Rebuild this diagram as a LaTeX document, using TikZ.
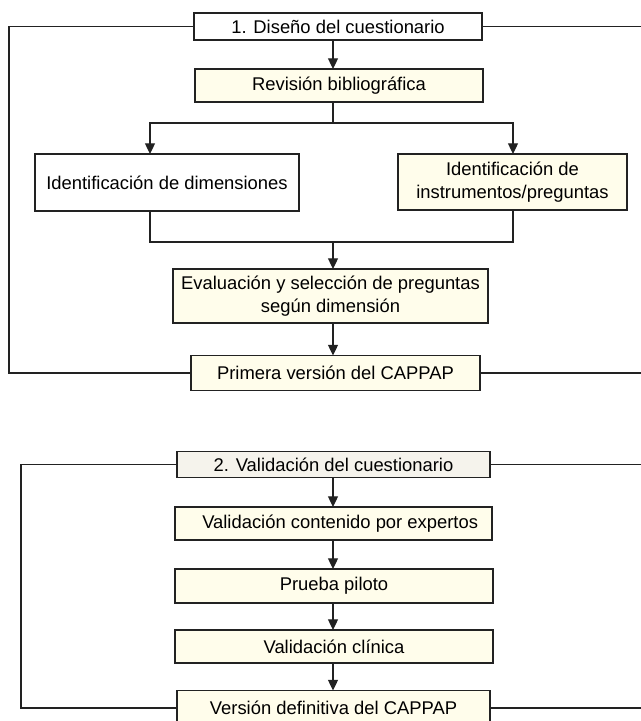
\documentclass[tikz,border=0pt]{standalone}
\usepackage{fontspec}
\setmainfont{Liberation Sans}
\usetikzlibrary{arrows.meta}

\definecolor{boxyellow}{RGB}{255,253,235}
\definecolor{boxgray}{RGB}{245,243,236}
\definecolor{linegray}{RGB}{34,34,34}

\tikzset{every picture/.style={line width=0.9pt}}
\tikzset{
	stepbox/.style={draw=linegray, fill=boxyellow, inner sep=0.75pt, outer sep=0pt, align=center, font=\fontsize{13.8}{17}\selectfont},
	plainbox/.style={stepbox, fill=white},
	titlebox/.style={stepbox, fill=boxgray},
	flowarrow/.style={draw=linegray, -{Triangle[width=7.5pt,length=8pt]}},
	frameline/.style={draw=linegray},
}

\begin{document}
\begin{tikzpicture}[x=0.75pt,y=0.75pt,yscale=-1,xscale=1]
	%set diagram size
	\useasboundingbox (0,0) rectangle (641,721);

	%Coordinates for the arrow axis and the frame sides
	\coordinate (axis) at (333,0);
	\coordinate (leftx) at (150,0);
	\coordinate (rightx) at (513,0);
	\coordinate (edge) at (641,0);
	\coordinate (frameA) at (9,0);
	\coordinate (frameB) at (21,0);

	%Section 1: design
	% Text Node
	\node [plainbox, minimum width=216pt, minimum height=20.25pt] (t1) at (338,26.5) {1. Diseño del cuestionario};
	% Text Node
	\node [stepbox, minimum width=216pt, minimum height=24.75pt] (rev) at (339,85.5) {Revisión bibliográfica};
	% Text Node
	\node [plainbox, minimum width=198pt, minimum height=42.75pt] (dim) at (167,182.5) {Identificación de dimensiones};
	% Text Node
	\node [stepbox, minimum width=171.75pt, minimum height=42pt] (ins) at (512.5,182) {Identificación de\\instrumentos/preguntas};
	% Text Node
	\node [stepbox, minimum width=236.25pt, minimum height=40.5pt] (eva) at (330.5,296) {Evaluación y selección de preguntas\\según dimensión};
	% Text Node
	\node [stepbox, minimum width=216.75pt, minimum height=26.25pt] (pri) at (335.5,373) {Primera versión del CAPPAP};

	\coordinate (split) at (333,123);
	\coordinate (merge) at (333,242);

	%Connectors
	\draw [flowarrow] (t1.south -| axis) -- (rev.north -| axis);
	\draw [frameline] (rev.south -| axis) -- (split);
	\draw [flowarrow] (split) -| (dim.north -| leftx);
	\draw [flowarrow] (split) -| (ins.north -| rightx);
	\draw [frameline] (dim.south -| leftx) |- (merge);
	\draw [frameline] (ins.south -| rightx) |- (merge);
	\draw [flowarrow] (merge) -- (eva.north -| axis);
	\draw [flowarrow] (eva.south -| axis) -- (pri.north -| axis);

	%Frame 1
	\draw [frameline] (t1.west) -| (frameA |- pri.west) -- (pri.west);
	\draw [frameline] (t1.east) -- (t1.east -| edge);
	\draw [frameline] (pri.east) -- (pri.east -| edge);

	%Section 2: validation
	% Text Node
	\node [titlebox, minimum width=234.75pt, minimum height=19.5pt] (t2) at (333.5,464.5) {2. Validación del cuestionario};
	% Text Node
	\node [stepbox, minimum width=237.75pt, minimum height=24.75pt] (exp) at (333.5,523.5) {\hspace*{10pt}Validación contenido por expertos};
	% Text Node
	\node [stepbox, minimum width=238.5pt, minimum height=25.5pt] (pil) at (334,586) {Prueba piloto};
	% Text Node
	\node [stepbox, minimum width=238.5pt, minimum height=24.75pt] (cli) at (334,646.5) {Validación clínica};
	% Text Node
	\node [stepbox, minimum width=234.75pt, minimum height=26.25pt] (def) at (333.5,708) {Versión definitiva del CAPPAP};

	%Connectors
	\draw [flowarrow] (t2.south -| axis) -- (exp.north -| axis);
	\draw [flowarrow] (exp.south -| axis) -- (pil.north -| axis);
	\draw [flowarrow] (pil.south -| axis) -- (cli.north -| axis);
	\draw [flowarrow] (cli.south -| axis) -- (def.north -| axis);

	%Frame 2
	\draw [frameline] (t2.west) -| (frameB |- def.west) -- (def.west);
	\draw [frameline] (t2.east) -- (t2.east -| edge);
	\draw [frameline] (def.east) -- (def.east -| edge);

\end{tikzpicture}
\end{document}
